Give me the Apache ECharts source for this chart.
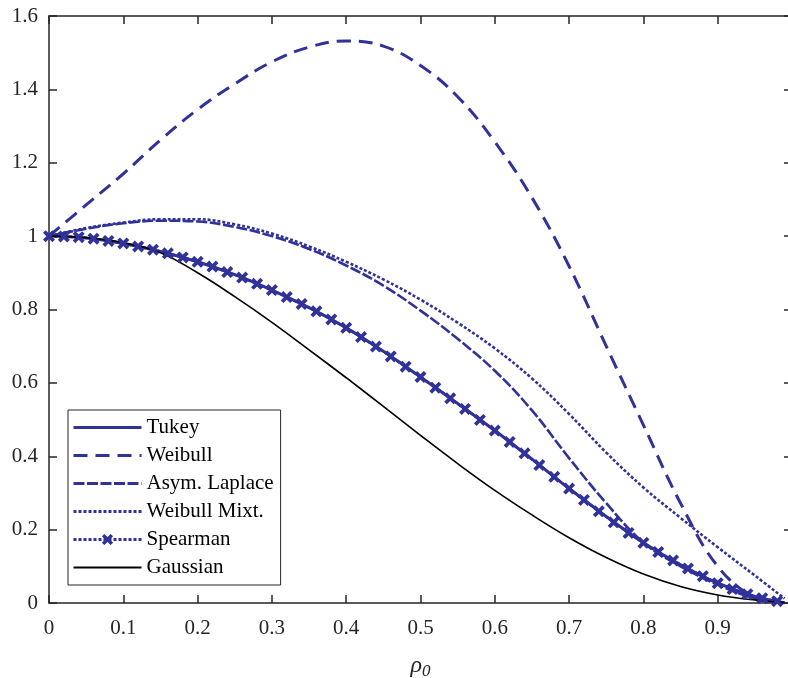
<!DOCTYPE html>
<html>
<head>
<meta charset="utf-8">
<script src="https://cdn.jsdelivr.net/npm/echarts@6/dist/echarts.min.js"></script>
<style>
  html, body { margin: 0; padding: 0; background: #fff; }
  #chart { width: 788px; height: 678px; }
</style>
</head>
<body>
<div id="chart"></div>
<script>
// rho_0 grid shared by the smooth curves
const rho = [0, 0.05, 0.10, 0.15, 0.20, 0.25, 0.30, 0.35, 0.40, 0.45, 0.50,
             0.55, 0.60, 0.65, 0.70, 0.75, 0.80, 0.85, 0.90, 0.95, 0.99];

const tukey = [1.000, 0.995, 0.980, 0.958, 0.930, 0.895, 0.853, 0.805, 0.750, 0.686, 0.616,
               0.544, 0.470, 0.392, 0.312, 0.236, 0.164, 0.104, 0.054, 0.018, 0.001];

const weibull = [1.000, 1.085, 1.170, 1.262, 1.345, 1.415, 1.475, 1.515, 1.532, 1.518, 1.465,
                 1.380, 1.257, 1.105, 0.918, 0.700, 0.485, 0.272, 0.100, 0.015, 0.000];

const asymLaplace = [1.000, 1.020, 1.035, 1.042, 1.040, 1.025, 1.000, 0.965, 0.920, 0.865, 0.797,
                     0.720, 0.633, 0.525, 0.395, 0.272, 0.165, 0.100, 0.050, 0.012, 0.000];

const weibullMixt = [1.000, 1.022, 1.037, 1.046, 1.046, 1.032, 1.007, 0.972, 0.930, 0.882, 0.827,
                     0.764, 0.694, 0.612, 0.515, 0.410, 0.315, 0.232, 0.152, 0.075, 0.012];

const gaussian = [1.000, 0.996, 0.982, 0.955, 0.900, 0.835, 0.765, 0.690, 0.614, 0.536, 0.457,
                  0.380, 0.307, 0.240, 0.178, 0.124, 0.079, 0.045, 0.022, 0.008, 0.001];

// Spearman is evaluated on a finer grid and drawn with markers
const rhoSpearman = [0.00, 0.02, 0.04, 0.06, 0.08, 0.10, 0.12, 0.14, 0.16, 0.18,
                     0.20, 0.22, 0.24, 0.26, 0.28, 0.30, 0.32, 0.34, 0.36, 0.38,
                     0.40, 0.42, 0.44, 0.46, 0.48, 0.50, 0.52, 0.54, 0.56, 0.58,
                     0.60, 0.62, 0.64, 0.66, 0.68, 0.70, 0.72, 0.74, 0.76, 0.78,
                     0.80, 0.82, 0.84, 0.86, 0.88, 0.90, 0.92, 0.94, 0.96, 0.98];
const spearman = [1.000, 0.999, 0.997, 0.993, 0.987, 0.980, 0.972, 0.963, 0.953, 0.942,
                  0.930, 0.917, 0.902, 0.887, 0.870, 0.853, 0.834, 0.815, 0.795, 0.773,
                  0.750, 0.725, 0.699, 0.672, 0.644, 0.616, 0.587, 0.558, 0.529, 0.499,
                  0.470, 0.439, 0.408, 0.376, 0.344, 0.312, 0.281, 0.250, 0.220, 0.191,
                  0.164, 0.139, 0.116, 0.094, 0.073, 0.054, 0.038, 0.024, 0.013, 0.005];

const seriesNames = ['Tukey', 'Weibull', 'Asym. Laplace', 'Weibull Mixt.', 'Spearman', 'Gaussian'];

const BLUE = '#31319a';
const AXIS = '#262626';
const FONT = 'Liberation Serif';

function pairs(xs, ys) { return xs.map((x, i) => [x, ys[i]]); }

// bold "x" marker
const crossSymbol = 'path://M0,2.2L2.2,0L5,2.8L7.8,0L10,2.2L7.2,5L10,7.8L7.8,10L5,7.2L2.2,10L0,7.8L2.8,5Z';

function curve(name, xs, ys, color, width, type, extra) {
  return Object.assign({
    name: name,
    type: 'line',
    data: pairs(xs, ys),
    smooth: 0.4,
    symbol: 'none',
    animation: false,
    lineStyle: { color: color, width: width, type: type },
    itemStyle: { color: color }
  }, extra || {});
}

const chart = echarts.init(document.getElementById('chart'), null, { renderer: 'canvas' });

const tickFont = { fontFamily: FONT, fontSize: 21, color: '#262626' };
const frameLine = { show: true, onZero: false, lineStyle: { color: AXIS, width: 1.5 } };
const frameTick = { show: true, inside: true, length: 8, lineStyle: { color: AXIS, width: 1.5 } };

// legend entries: line only, except Spearman which keeps its marker
const legendItems = seriesNames.map(n => {
  const item = { name: n, lineStyle: { width: n === 'Gaussian' ? 2 : 3 } };
  if (n !== 'Spearman') item.itemStyle = { opacity: 0 };
  return item;
});

chart.setOption({
  backgroundColor: '#ffffff',
  animation: false,
  grid: { left: 49, right: -4, top: 16, bottom: 75, containLabel: false, outerBoundsMode: 'none' },
  legend: {
    data: legendItems,
    orient: 'vertical',
    left: 68,
    top: 410,
    itemWidth: 68,
    itemHeight: 14,
    itemGap: 7,
    padding: [7, 7, 7, 4],
    borderColor: AXIS,
    borderWidth: 1,
    backgroundColor: '#ffffff',
    textStyle: { fontFamily: FONT, fontSize: 21, color: '#000' },
    selectedMode: false
  },
  xAxis: [{
    type: 'value', min: 0, max: 1, interval: 0.1,
    axisLine: frameLine,
    axisTick: frameTick,
    axisLabel: Object.assign({ margin: 15, formatter: v => (v >= 1 ? '' : String(+v.toFixed(1))) }, tickFont),
    splitLine: { show: false },
    name: '{i|ρ}{s|0}',
    nameLocation: 'middle',
    nameGap: 48,
    nameTextStyle: {
      rich: {
        i: { fontFamily: FONT, fontStyle: 'italic', fontSize: 24, color: '#262626' },
        s: { fontFamily: FONT, fontStyle: 'italic', fontSize: 17, color: '#262626', padding: [12, 0, 0, 0] }
      }
    }
  }, {
    type: 'value', min: 0, max: 1, interval: 0.1, position: 'top',
    axisLine: frameLine,
    axisTick: frameTick,
    axisLabel: { show: false },
    splitLine: { show: false }
  }],
  yAxis: [{
    type: 'value', min: 0, max: 1.6, interval: 0.2,
    axisLine: frameLine,
    axisTick: frameTick,
    axisLabel: Object.assign({ margin: 11, formatter: v => String(+v.toFixed(1)) }, tickFont),
    splitLine: { show: false }
  }, {
    type: 'value', min: 0, max: 1.6, interval: 0.2, position: 'right',
    axisLine: frameLine,
    axisTick: frameTick,
    axisLabel: { show: false },
    splitLine: { show: false }
  }],
  series: [
    curve('Tukey', rho, tukey, BLUE, 3, 'solid'),
    curve('Weibull', rho, weibull, BLUE, 3, [14, 8]),
    curve('Asym. Laplace', rho, asymLaplace, BLUE, 2.6, [11, 2.5]),
    curve('Weibull Mixt.', rho, weibullMixt, BLUE, 2.6, [3, 2]),
    curve('Spearman', rhoSpearman, spearman, BLUE, 2.6, [3, 2], {
      smooth: false,
      symbol: crossSymbol,
      symbolSize: 12,
      showSymbol: true,
      itemStyle: { color: BLUE }
    }),
    curve('Gaussian', rho, gaussian, '#000000', 1.6, 'solid')
  ]
});
</script>
</body>
</html>
